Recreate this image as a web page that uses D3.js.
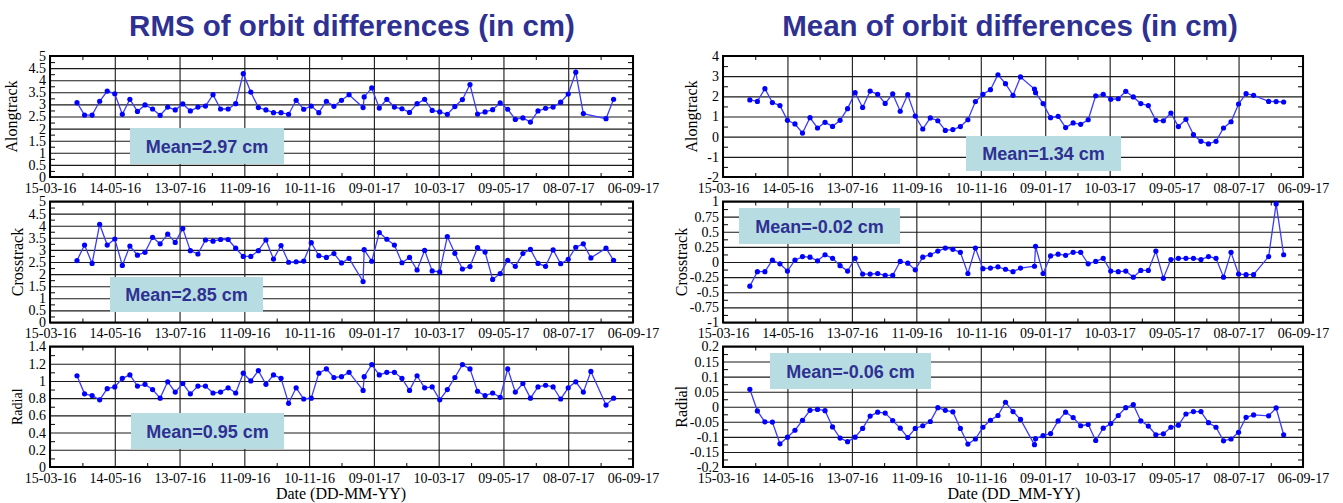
<!DOCTYPE html>
<html lang="en">
<head>
<meta charset="utf-8">
<title>Orbit differences</title>
<script src="https://cdn.jsdelivr.net/npm/d3@7"></script>
<style>
  * { margin: 0; padding: 0; }
  body { background: #fff; width: 1343px; height: 503px; overflow: hidden; }
  svg { display: block; }
</style>
</head>
<body>
<svg id="chart" width="1343" height="503"></svg>
<script>
// x axis: one tick every 60 days
const xTickLabels = ["15-03-16", "14-05-16", "13-07-16", "11-09-16", "10-11-16",
  "09-01-17", "10-03-17", "09-05-17", "08-07-17", "06-09-17"];

// weekly solutions (plus one extra at the end of 2016)
const dates = [
  "2016-04-09", "2016-04-16", "2016-04-23", "2016-04-30", "2016-05-07", "2016-05-14", "2016-05-21", "2016-05-28", "2016-06-04", "2016-06-11",
  "2016-06-18", "2016-06-25", "2016-07-02", "2016-07-09", "2016-07-16", "2016-07-23", "2016-07-30", "2016-08-06", "2016-08-13", "2016-08-20",
  "2016-08-27", "2016-09-03", "2016-09-10", "2016-09-17", "2016-09-24", "2016-10-01", "2016-10-08", "2016-10-15", "2016-10-22", "2016-10-29",
  "2016-11-05", "2016-11-12", "2016-11-19", "2016-11-26", "2016-12-03", "2016-12-10", "2016-12-17", "2016-12-30", "2016-12-31", "2017-01-07",
  "2017-01-14", "2017-01-21", "2017-01-28", "2017-02-04", "2017-02-11", "2017-02-18", "2017-02-25", "2017-03-04", "2017-03-11", "2017-03-18",
  "2017-03-25", "2017-04-01", "2017-04-08", "2017-04-15", "2017-04-22", "2017-04-29", "2017-05-06", "2017-05-13", "2017-05-20", "2017-05-27",
  "2017-06-03", "2017-06-10", "2017-06-17", "2017-06-24", "2017-07-01", "2017-07-08", "2017-07-15", "2017-07-22", "2017-07-29", "2017-08-05",
  "2017-08-12", "2017-08-19"
];

// RMS of orbit differences (cm)
const rmsAlong = [
  3.07, 2.56, 2.56, 3.13, 3.55, 3.44, 2.59, 3.21, 2.71, 2.98,
  2.81, 2.55, 2.89, 2.77, 3.02, 2.73, 2.89, 2.93, 3.40, 2.81,
  2.81, 3.03, 4.27, 3.51, 2.87, 2.77, 2.66, 2.66, 2.59, 3.17,
  2.80, 2.93, 2.66, 3.13, 2.92, 3.17, 3.40, 2.87, 3.31, 3.68,
  2.85, 3.21, 2.89, 2.82, 2.67, 3.03, 3.21, 2.75, 2.69, 2.59,
  2.91, 3.20, 3.82, 2.60, 2.69, 2.78, 3.06, 2.80, 2.38, 2.44,
  2.27, 2.73, 2.84, 2.89, 3.09, 3.43, 4.33, 2.62, null, null,
  2.41, 3.21
];
const rmsCross = [
  2.56, 3.20, 2.44, 4.06, 3.20, 3.45, 2.36, 3.16, 2.78, 2.90,
  3.52, 3.25, 3.65, 3.31, 3.88, 2.97, 2.83, 3.41, 3.36, 3.43,
  3.43, 3.07, 2.73, 2.73, 2.97, 3.41, 2.62, 3.18, 2.49, 2.51,
  2.54, 3.30, 2.76, 2.69, 2.85, 2.46, 2.65, 1.69, 3.01, 2.53,
  3.72, 3.44, 3.20, 2.47, 2.69, 2.17, 2.98, 2.13, 2.09, 3.55,
  2.86, 2.21, 2.31, 3.09, 2.91, 1.78, 2.02, 2.57, 2.32, 2.85,
  3.02, 2.44, 2.32, 3.00, 2.43, 2.61, 3.11, 3.25, 2.67, null,
  3.07, 2.57
];
const rmsRadial = [
  1.06, 0.85, 0.83, 0.78, 0.91, 0.93, 1.03, 1.07, 0.94, 0.96,
  0.90, 0.80, 0.99, 0.87, 0.97, 0.85, 0.94, 0.94, 0.86, 0.87,
  0.92, 0.86, 1.09, 1.00, 1.12, 0.96, 1.07, 1.03, 0.74, 0.92,
  0.79, 0.80, 1.09, 1.14, 1.04, 1.05, 1.10, 0.89, 1.05, 1.19,
  1.07, 1.10, 1.10, 1.03, 0.89, 1.06, 0.92, 0.93, 0.78, 0.90,
  1.04, 1.19, 1.14, 0.88, 0.83, 0.86, 0.81, 1.14, 0.87, 0.97,
  0.80, 0.93, 0.95, 0.93, 0.79, 0.92, 0.99, 0.87, 1.11, null,
  0.72, 0.80
];

// Mean of orbit differences (cm)
const meanAlong = [
  1.82, 1.75, 2.38, 1.69, 1.54, 0.81, 0.63, 0.18, 0.94, 0.43,
  0.71, 0.51, 0.81, 1.39, 2.18, 1.45, 2.26, 2.10, 1.65, 2.12,
  1.26, 2.08, 1.02, 0.38, 0.93, 0.79, 0.31, 0.35, 0.50, 0.84,
  1.74, 2.10, 2.33, 3.07, 2.63, 2.05, 2.96, 2.36, 2.18, 1.64,
  0.94, 1.01, 0.45, 0.68, 0.61, 0.84, 2.03, 2.10, 1.85, 1.88,
  2.25, 1.97, 1.64, 1.54, 0.81, 0.79, 1.17, 0.50, 0.86, 0.10,
  -0.23, -0.36, -0.23, 0.43, 0.74, 1.62, 2.13, 2.05, null, 1.75,
  1.74, 1.72
];
const meanCross = [
  -0.40, -0.16, -0.16, 0.03, -0.03, -0.15, 0.03, 0.09, 0.08, 0.02,
  0.12, 0.06, -0.06, -0.15, 0.06, -0.20, -0.20, -0.19, -0.22, -0.22,
  0.01, -0.02, -0.13, 0.08, 0.12, 0.18, 0.23, 0.21, 0.16, -0.19,
  0.23, -0.11, -0.10, -0.08, -0.12, -0.16, -0.10, -0.07, 0.26, -0.19,
  0.10, 0.13, 0.11, 0.16, 0.16, -0.03, 0.01, 0.06, -0.15, -0.16,
  -0.15, -0.25, -0.14, -0.14, 0.18, -0.27, 0.04, 0.06, 0.06, 0.06,
  0.04, 0.09, 0.06, -0.25, 0.16, -0.20, -0.21, -0.21, null, 0.09,
  0.96, 0.12
];
const meanRadial = [
  0.058, -0.014, -0.050, -0.051, -0.123, -0.101, -0.078, -0.045, -0.012, -0.009,
  -0.013, -0.067, -0.104, -0.116, -0.101, -0.072, -0.031, -0.018, -0.021, -0.046,
  -0.071, -0.102, -0.072, -0.063, -0.049, -0.003, -0.012, -0.017, -0.072, -0.124,
  -0.107, -0.068, -0.045, -0.029, 0.015, -0.016, -0.042, -0.126, -0.106, -0.096,
  -0.089, -0.047, -0.018, -0.036, -0.063, -0.059, -0.112, -0.071, -0.056, -0.029,
  -0.003, 0.007, -0.047, -0.064, -0.093, -0.090, -0.068, -0.061, -0.024, -0.016,
  -0.016, -0.053, -0.068, -0.113, -0.107, -0.085, -0.035, -0.027, null, -0.030,
  -0.004, -0.093
];

// y tick values
const rmsTicks = [0, 0.5, 1, 1.5, 2, 2.5, 3, 3.5, 4, 4.5, 5];
const rmsRadialTicks = [0, 0.2, 0.4, 0.6, 0.8, 1, 1.2, 1.4];
const meanAlongTicks = [-2, -1, 0, 1, 2, 3, 4];
const meanCrossTicks = [-1, -0.75, -0.5, -0.25, 0, 0.25, 0.5, 0.75, 1];
const meanRadialTicks = [-0.2, -0.15, -0.1, -0.05, 0, 0.05, 0.1, 0.15, 0.2];

const titles = ["RMS of orbit differences (in cm)", "Mean of orbit differences (in cm)"];
const xTitles = ["Date (DD-MM-YY)", "Date (DD_MM-YY)"];
const rowNames = ["Alongtrack", "Crosstrack", "Radial"];
const meanText = ["Mean=2.97 cm", "Mean=2.85 cm", "Mean=0.95 cm", "Mean=1.34 cm", "Mean=-0.02 cm", "Mean=-0.06 cm"];

// layout
const panels = [
  { x0: 50, x1: 633, titleX: 352, xTitleX: 341 },
  { x0: 723, x1: 1303, titleX: 1010, xTitleX: 1014 }
];
const rows = [{ y0: 56, y1: 177 }, { y0: 201.5, y1: 322.5 }, { y0: 346.5, y1: 467 }];

const plots = [
  { p: 0, r: 0, values: rmsAlong, ticks: rmsTicks, box: [130, 128, 154, 36], nameX: 17, nameSize: 16 },
  { p: 0, r: 1, values: rmsCross, ticks: rmsTicks, box: [110, 277, 153, 35], nameX: 22.5, nameSize: 16 },
  { p: 0, r: 2, values: rmsRadial, ticks: rmsRadialTicks, box: [131, 413, 153, 36], nameX: 21.5, nameSize: 14 },
  { p: 1, r: 0, values: meanAlong, ticks: meanAlongTicks, box: [966, 136, 155, 35], nameX: 697, nameSize: 16 },
  { p: 1, r: 1, values: meanCross, ticks: meanCrossTicks, box: [739, 208, 161, 36], nameX: 686.5, nameSize: 16 },
  { p: 1, r: 2, values: meanRadial, ticks: meanRadialTicks, box: [770, 353, 161, 36], nameX: 686.5, nameSize: 16 }
];

const NAVY = "#2e3192";
const BLUE = "#0000ff";
const SERIF = "'Liberation Serif', 'DejaVu Serif', serif";
const SANS = "'Liberation Sans', Arial, sans-serif";

const parseTick = d3.timeParse("%d-%m-%y");
const parseDate = d3.timeParse("%Y-%m-%d");
const xTicks = xTickLabels.map(parseTick);
const xMinor = d3.pairs(xTicks).map(([a, b]) => new Date((+a + +b) / 2));
const days = dates.map(parseDate);

const svg = d3.select("#chart");

// panel titles and x axis titles
panels.forEach((pn, i) => {
  svg.append("text")
    .attr("x", pn.titleX).attr("y", 36)
    .attr("text-anchor", "middle")
    .attr("font-family", SANS).attr("font-weight", "bold").attr("font-size", 29.5)
    .attr("fill", NAVY)
    .text(titles[i]);
  svg.append("text")
    .attr("x", pn.xTitleX).attr("y", 499)
    .attr("text-anchor", "middle")
    .attr("font-family", SERIF).attr("font-size", 16)
    .attr("fill", "#000")
    .text(xTitles[i]);
});

plots.forEach((pl, k) => {
  const pn = panels[pl.p], rw = rows[pl.r];
  const w = pn.x1 - pn.x0, h = rw.y1 - rw.y0;
  const x = d3.scaleTime().domain([xTicks[0], xTicks[xTicks.length - 1]]).range([pn.x0, pn.x1]);
  const y = d3.scaleLinear().domain(d3.extent(pl.ticks)).range([rw.y1, rw.y0]);
  const yMinor = d3.pairs(pl.ticks).map(([a, b]) => (a + b) / 2);
  const g = svg.append("g");

  const styleAxis = (sel, size) => {
    sel.select(".domain").remove();
    sel.attr("font-family", SERIF).attr("font-size", size);
    sel.selectAll(".tick line").attr("stroke", "#1a1a1a").attr("stroke-width", 1.1);
    sel.selectAll(".tick text").attr("fill", "#000");
  };

  // horizontal grid + y labels
  g.append("g").attr("transform", `translate(${pn.x0},0)`)
    .call(d3.axisLeft(y).tickValues(pl.ticks).tickSize(-w).tickPadding(4).tickFormat(d => String(d)))
    .call(s => styleAxis(s, 14));
  // vertical grid + x labels
  g.append("g").attr("transform", `translate(0,${rw.y1})`)
    .call(d3.axisBottom(x).tickValues(xTicks).tickSize(-h).tickPadding(6).tickFormat((d, i) => xTickLabels[i]))
    .call(s => styleAxis(s, 14));

  // minor ticks on all four sides
  g.append("g").attr("transform", `translate(${pn.x0},0)`)
    .call(d3.axisLeft(y).tickValues(yMinor).tickSize(-5).tickFormat(""))
    .call(s => styleAxis(s, 10));
  g.append("g").attr("transform", `translate(${pn.x1},0)`)
    .call(d3.axisRight(y).tickValues(yMinor).tickSize(-5).tickFormat(""))
    .call(s => styleAxis(s, 10));
  g.append("g").attr("transform", `translate(0,${rw.y1})`)
    .call(d3.axisBottom(x).tickValues(xMinor).tickSize(-4).tickFormat(""))
    .call(s => styleAxis(s, 10));
  g.append("g").attr("transform", `translate(0,${rw.y0})`)
    .call(d3.axisTop(x).tickValues(xMinor).tickSize(-4).tickFormat(""))
    .call(s => styleAxis(s, 10));

  // frame
  g.append("rect")
    .attr("x", pn.x0).attr("y", rw.y0).attr("width", w).attr("height", h)
    .attr("fill", "none").attr("stroke", "#000").attr("stroke-width", 2);

  // y axis title
  g.append("text")
    .attr("transform", `translate(${pl.nameX},${(rw.y0 + rw.y1) / 2}) rotate(-90)`)
    .attr("text-anchor", "middle")
    .attr("font-family", SERIF).attr("font-size", pl.nameSize)
    .attr("fill", "#000")
    .text(rowNames[pl.r]);

  // series
  const pts = days.map((d, i) => ({ d, v: pl.values[i] })).filter(p => p.v != null);
  g.append("path")
    .datum(pts)
    .attr("fill", "none").attr("stroke", "#3b3bff").attr("stroke-width", 1.3)
    .attr("d", d3.line().x(p => x(p.d)).y(p => y(p.v)));
  g.append("g").selectAll("circle")
    .data(pts)
    .join("circle")
    .attr("cx", p => x(p.d)).attr("cy", p => y(p.v))
    .attr("r", 2.6)
    .attr("fill", BLUE);

  // mean box
  const [bx, by, bw, bh] = pl.box;
  g.append("rect")
    .attr("x", bx).attr("y", by).attr("width", bw).attr("height", bh)
    .attr("fill", "#b7dde2");
  g.append("text")
    .attr("x", bx + bw / 2).attr("y", by + bh / 2 + 6.5)
    .attr("text-anchor", "middle")
    .attr("font-family", SANS).attr("font-weight", "bold").attr("font-size", 18)
    .attr("fill", NAVY)
    .text(meanText[k]);
});
</script>
</body>
</html>
